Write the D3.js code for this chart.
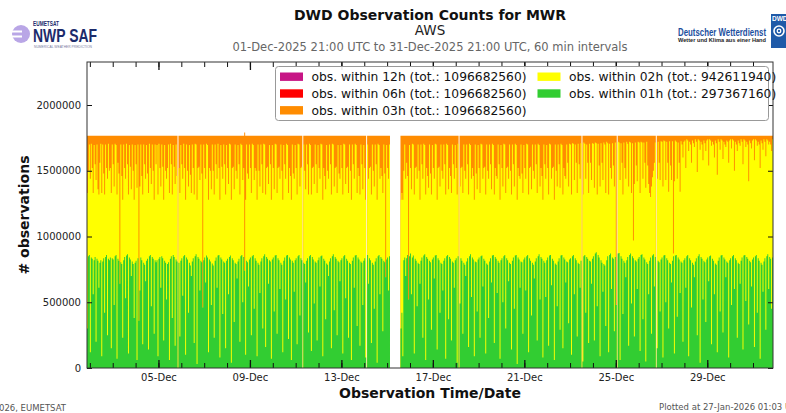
<!DOCTYPE html>
<html>
<head>
<meta charset="utf-8">
<script src="https://cdn.jsdelivr.net/npm/d3@7"></script>
<style>
  body { margin: 0; background: #fff; }
  svg { display: block; }
  text { font-family: "DejaVu Sans", sans-serif; }
</style>
</head>
<body>
<svg id="chart" width="786" height="413"></svg>
<script>
// Hourly counts (thousands of observations), one row per 24 hours, first hour 01-Dec-2025 21:00 UTC.
// null = no data for that hour.
const startTime = Date.UTC(2025, 11, 1, 21);
const intervalMs = 3600 * 1000;
const valueUnit = 1000;

const within01h = [
  300,850,860,120,840,830,560,820,845,200,830,815,610,800,820,90,810,835,420,845,860,250,830,820,
  840,150,835,825,480,850,860,70,830,815,640,805,790,230,820,845,530,855,865,110,840,825,700,810,
  790,380,800,815,60,835,360,590,840,820,180,800,785,660,815,830,140,850,860,470,845,830,260,820,
  805,820,90,830,845,610,850,835,210,815,800,520,790,805,60,830,850,380,860,845,170,825,810,null,
  800,240,815,835,550,850,860,100,840,825,420,800,780,700,810,835,190,850,865,30,845,830,590,815,
  805,460,820,840,650,855,840,120,825,810,480,795,780,230,815,840,610,855,860,80,840,825,410,810,
  800,150,815,830,560,845,855,40,835,820,350,800,790,680,810,830,200,850,860,500,845,740,100,815,
  805,620,825,840,250,850,860,450,835,815,90,800,785,570,810,835,300,850,865,160,845,830,640,820,
  810,70,825,840,430,855,860,260,835,820,600,800,785,120,815,840,520,855,860,220,840,825,60,815,
  800,580,820,835,180,850,860,400,835,820,null,800,790,650,815,835,270,850,860,130,845,825,490,810,
  800,210,820,840,620,850,855,90,830,815,370,795,785,700,810,835,150,850,865,440,845,830,250,815,
  805,660,820,835,110,850,860,530,830,815,230,800,790,60,815,840,610,855,860,320,840,825,170,810,
  800,480,815,835,80,null,860,640,835,820,190,800,785,450,810,835,40,850,860,560,845,830,280,815,
  805,690,825,840,590,850,null,null,null,null,null,null,null,null,null,null,null,300,420,90,820,840,700,835,
  860,520,850,870,560,840,855,110,830,815,470,800,790,640,815,840,230,855,865,60,845,830,520,815,
  805,290,825,840,680,855,860,140,835,820,420,800,790,590,815,835,70,850,860,370,845,830,210,810,
  800,610,820,835,40,850,null,490,835,815,260,800,785,700,810,835,160,850,865,540,840,825,90,810,
  805,430,825,840,230,850,855,620,830,815,110,795,785,380,810,835,650,855,860,190,845,830,570,815,
  800,70,820,835,500,850,860,300,835,820,660,800,790,140,815,840,450,855,860,30,840,825,610,810,
  805,260,825,840,590,850,860,120,835,815,400,800,785,680,810,835,210,850,865,520,845,830,80,815,
  800,540,820,840,170,855,860,630,830,815,60,795,785,470,810,835,290,855,860,150,840,825,650,810,
  805,340,825,835,100,850,860,560,835,820,240,800,790,610,815,null,50,850,860,420,845,830,190,815,
  810,640,830,850,210,870,880,470,860,840,90,820,800,580,790,780,320,820,850,120,860,870,600,840,
  830,280,845,480,null,870,875,60,850,830,410,815,800,690,820,845,170,860,870,490,850,835,240,820,
  810,600,830,845,130,860,865,370,840,825,50,805,790,560,815,840,260,855,865,620,845,null,150,815,
  805,430,825,840,80,855,860,500,835,820,300,800,790,650,815,850,110,855,860,390,840,825,570,810,
  800,200,820,835,610,850,860,90,835,820,460,800,785,690,810,835,250,850,865,40,845,830,520,815,
  805,350,825,840,660,850,855,180,830,815,560,795,785,120,815,840,430,855,860,270,840,825,690,810,
  800,80,820,835,480,850,860,600,835,820,230,800,790,640,815,840,140,855,860,510,845,830,330,815,
  805,620,825,840,160,850,860,420,835,815,70,800,785,580,810,835,290,850,865,600,845,830,450,840
];

const within02h = [
  1330,1500,1700,1440,1705,1520,1330,1695,1550,1430,1700,1360,1320,1560,1705,1330,1700,1480,1320,1700,1520,1440,1705,1500,
  1520,1330,1700,1550,1380,1705,1695,1320,1560,1480,640,1700,1460,1280,1700,1520,1440,1705,1550,1320,1695,1530,1360,1700,
  1500,1280,1695,1550,1370,1700,360,1380,1700,1460,1320,1700,1550,1440,1695,1480,1330,1705,1520,1400,1700,1500,1280,1700,
  1550,1695,1320,1705,1520,1380,1700,1530,1280,1695,1500,1440,1520,1700,1330,1705,1550,1320,1695,1530,1400,1700,1460,null,
  1520,1330,1695,1550,1440,1705,1520,1280,1700,1500,1380,1695,1470,1330,1700,1520,1320,1705,1700,1280,1520,1530,1430,1700,
  1480,460,1700,1520,1440,1705,1695,1280,1520,1500,1360,1700,1500,1320,1700,1550,1440,1705,1520,1280,1695,1530,1440,1700,
  1550,1320,1695,1520,1400,1705,1700,1280,1520,1530,1360,1700,1500,1440,1695,1550,1320,1705,1695,1430,1520,740,1280,1700,
  1480,1440,1700,1520,1330,1705,1695,1430,1520,1500,1280,1700,1500,1380,1700,1550,1330,1705,1700,1320,1520,1530,1400,1695,
  1550,1280,1695,1520,1360,1705,1700,1330,1520,1530,1440,1700,1500,1280,1695,1550,1440,1705,1695,1330,1520,1460,1280,1700,
  1480,1440,1695,1520,1320,1705,1700,1380,1520,1530,null,1700,1500,1360,1700,1550,1320,1705,1695,1320,1520,1530,1400,1700,
  1550,1330,1695,1520,1440,1705,1700,1280,1520,1460,1360,1695,1500,1440,1700,1550,1320,1705,1700,1380,1520,1530,1330,1695,
  1480,1440,1695,1520,1320,1705,1700,1400,1520,1530,1330,1700,1500,1280,1700,1550,1440,1705,1695,1330,1520,1460,1320,1700,
  1550,1360,1695,1520,1280,null,1700,1440,1520,1530,1320,1700,1500,1380,1700,1550,1280,1705,1695,1440,1520,1460,1330,1700,
  1480,690,1695,1520,1440,1700,null,null,null,null,null,null,null,null,null,null,null,1280,1330,1280,1500,1700,1440,1560,
  1460,520,1695,1520,1360,1705,1700,1320,1520,1530,1440,1700,1500,1280,1700,1550,1440,1705,1695,1320,1520,1460,1370,1700,
  1480,1320,1695,1520,1440,1705,1700,1280,1520,1530,1380,1700,1500,1440,1700,1550,1320,1705,1695,1360,1520,1460,1330,1700,
  1550,1440,1695,1520,1320,1705,null,1380,1520,1530,1330,1700,1500,1440,1700,1550,1320,1705,1695,1440,1520,1460,1280,1700,
  1480,1360,1695,1520,1330,1705,1700,1440,1520,1530,1320,1700,1500,1440,1700,1550,1360,1705,1695,1320,1520,1460,1440,1700,
  1550,1280,1695,1520,1380,1705,1700,1330,1520,1530,1440,1700,1500,1320,1700,1550,1380,1705,1695,1280,1520,1460,1440,1700,
  1480,1330,1695,1520,1440,1705,1700,1320,1520,1530,1360,1700,1500,1440,1700,1550,1330,1705,1695,1380,1520,1460,1280,1700,
  1550,1440,1695,1520,1320,1705,1700,1440,1520,1530,1280,1700,1500,1380,1700,1550,1370,1705,1695,1320,1520,1460,1440,1700,
  1560,1380,1705,1700,1320,1710,1705,1430,1700,1560,1330,1705,1550,1440,1710,null,1320,1715,1705,1440,1700,1560,1330,1705,
  1560,1430,1710,1705,1370,1715,1710,1320,1705,1540,1380,1710,1560,1430,1715,1700,1330,1720,1710,1320,1705,1520,1440,1710,
  1540,1380,1715,480,null,1720,1715,1430,1710,1560,1320,1715,1520,1440,1720,1705,1380,1720,1715,1330,1710,970,1400,1715,
  1540,1420,1720,1715,1330,1720,1715,1440,1715,1560,1370,1720,1540,1400,1330,1300,1380,1450,1500,1560,1715,null,1440,1720,
  1560,1430,1725,1720,1380,1730,1725,1430,1720,1560,1340,1725,1540,1430,1725,870,1420,1730,1720,1440,1715,1560,1340,1725,
  1700,1600,1720,1730,1520,1740,1730,1650,1720,1700,1560,1730,1710,1680,1740,1720,1490,1740,1730,1660,1720,1700,1580,1730,
  1710,1650,1730,1740,1540,1740,1730,1690,1720,1700,1600,1730,1710,1470,1740,1720,1660,1740,1730,1590,1720,1700,1680,1730,
  1720,1560,1730,1740,1670,1740,1730,1500,1720,1700,1650,1730,1710,1690,1740,1720,1550,1740,1730,1680,1720,1700,1420,1730,
  1710,1670,1730,1740,1580,1740,1730,1690,1720,1700,1520,1730,1710,1660,1740,1720,1610,1740,1730,1700,1720,1700,1650,1740
];

const within03h = [
  1766,1766,1766,1766,1766,1766,1766,1766,1766,1766,1766,1766,1766,1766,1766,1766,1766,1766,1766,1766,1766,1766,1766,1766,
  1766,1766,1766,1766,1766,1766,1766,1766,1766,1766,1766,1766,1766,1766,1766,1766,1766,1766,1766,1766,1766,1766,1766,1766,
  1766,1766,1766,1766,1766,1766,1766,1766,1766,1766,1766,1766,1766,1766,1766,1766,1766,1766,1766,1766,1766,1766,1766,1766,
  1766,1766,1766,1766,1766,1766,1766,1766,1766,1766,1766,1766,1766,1766,1766,1766,1766,1766,1766,1766,1766,1766,1766,null,
  1766,1766,1766,1766,1766,1766,1766,1766,1766,1766,1766,1766,1766,1766,1766,1766,1766,1766,1766,1766,1766,1766,1766,1766,
  1766,1766,1766,1766,1766,1766,1766,1766,1766,1766,1766,1766,1766,1766,1766,1766,1766,1766,1766,1766,1766,1766,1766,1766,
  1766,1766,1766,1766,1766,1766,1766,1766,1766,1766,1766,1766,1766,1766,1766,1766,1766,1766,1766,1766,1766,1790,1766,1766,
  1766,1766,1766,1766,1766,1766,1766,1766,1766,1766,1766,1766,1766,1766,1766,1766,1766,1766,1766,1766,1766,1766,1766,1766,
  1766,1766,1766,1766,1766,1766,1766,1766,1766,1766,1766,1766,1766,1766,1766,1766,1766,1766,1766,1766,1766,1766,1766,1766,
  1766,1766,1766,1766,1766,1766,1766,1766,1766,1766,null,1766,1766,1766,1766,1766,1766,1766,1766,1766,1766,1766,1766,1766,
  1766,1766,1766,1766,1766,1766,1766,1766,1766,1766,1766,1766,1766,1766,1766,1766,1766,1766,1766,1766,1766,1766,1766,1766,
  1766,1766,1766,1766,1766,1766,1766,1766,1766,1766,1766,1766,1766,1766,1766,1766,1766,1766,1766,1766,1766,1766,1766,1766,
  1766,1766,1766,1766,1766,null,1766,1766,1766,1766,1766,1766,1766,1766,1766,1766,1766,1766,1766,1766,1766,1766,1766,1766,
  1766,1766,1766,1766,1766,1766,null,null,null,null,null,null,null,null,null,null,null,1766,1766,1766,1766,1766,1766,1766,
  1766,1766,1766,1766,1766,1766,1766,1766,1766,1766,1766,1766,1766,1766,1766,1766,1766,1766,1766,1766,1766,1766,1766,1766,
  1766,1766,1766,1766,1766,1766,1766,1766,1766,1766,1766,1766,1766,1766,1766,1766,1766,1766,1766,1766,1766,1766,1766,1766,
  1766,1766,1766,1766,1766,1766,null,1766,1766,1766,1766,1766,1766,1766,1766,1766,1766,1766,1766,1766,1766,1766,1766,1766,
  1766,1766,1766,1766,1766,1766,1766,1766,1766,1766,1766,1766,1766,1766,1766,1766,1766,1766,1766,1766,1766,1766,1766,1766,
  1766,1766,1766,1766,1766,1766,1766,1766,1766,1766,1766,1766,1766,1766,1766,1766,1766,1766,1766,1766,1766,1766,1766,1766,
  1766,1766,1766,1766,1766,1766,1766,1766,1766,1766,1766,1766,1766,1766,1766,1766,1766,1766,1766,1766,1766,1766,1766,1766,
  1766,1766,1766,1766,1766,1766,1766,1766,1766,1766,1766,1766,1766,1766,1766,1766,1766,1766,1766,1766,1766,1766,1766,1766,
  1766,1766,1766,1766,1766,1766,1766,1766,1766,1766,1766,1766,1766,1766,1766,null,1766,1766,1766,1766,1766,1766,1766,1766,
  1766,1766,1766,1766,1766,1766,1766,1766,1766,1766,1766,1766,1766,1766,1766,1766,1766,1766,1766,1766,1766,1766,1766,1766,
  1766,1766,1766,1766,null,1766,1766,1766,1766,1766,1766,1766,1766,1766,1766,1766,1766,1766,1766,1766,1766,1766,1766,1766,
  1766,1766,1766,1766,1766,1766,1766,1766,1766,1766,1766,1766,1766,1766,1766,1766,1766,1766,1766,1766,1766,null,1766,1766,
  1766,1766,1766,1766,1766,1766,1766,1766,1766,1766,1766,1766,1766,1766,1766,1766,1766,1766,1766,1766,1766,1766,1766,1766,
  1766,1766,1766,1766,1766,1766,1766,1766,1766,1766,1766,1766,1766,1766,1766,1766,1766,1766,1766,1766,1766,1766,1766,1766,
  1766,1766,1766,1766,1766,1766,1766,1766,1766,1766,1766,1766,1766,1766,1766,1766,1766,1766,1766,1766,1766,1766,1766,1766,
  1766,1766,1766,1766,1766,1766,1766,1766,1766,1766,1766,1766,1766,1766,1766,1766,1766,1766,1766,1766,1766,1766,1766,1766,
  1766,1766,1766,1766,1766,1766,1766,1766,1766,1766,1766,1766,1766,1766,1766,1766,1766,1766,1766,1766,1766,1766,1766,1766
];
// Every observation had arrived within 3 h, so the 6 h and 12 h counts equal the 3 h counts.
const within06h = within03h;
const within12h = within03h;

const seriesNames  = ["obs. within 12h", "obs. within 06h", "obs. within 03h", "obs. within 02h", "obs. within 01h"];
const seriesTotals = ["1096682560", "1096682560", "1096682560", "942611940", "297367160"];
const seriesColors = ["#c71585", "#ff0000", "#ff8c00", "#ffff00", "#32cd32"];
const seriesValues = [within12h, within06h, within03h, within02h, within01h];
// the 12h and 06h colours only show the late arrivals above the next shorter window
const seriesBase   = [within06h, within03h, null, null, null];

const yTickValues = [0, 500000, 1000000, 1500000, 2000000];
const xLabelDays  = [5, 9, 13, 17, 21, 25, 29];

const plot = { left: 87, right: 773, top: 62, bottom: 368 };
const hourCount = within03h.length;

const svg = d3.select("#chart");

const x = d3.scaleUtc()
  .domain([new Date(startTime), new Date(startTime + hourCount * intervalMs)])
  .range([plot.left, plot.right]);
const y = d3.scaleLinear().domain([0, 2327000]).range([plot.bottom, plot.top]);

svg.append("defs").append("clipPath").attr("id", "plotClip")
  .append("rect")
  .attr("x", plot.left).attr("y", plot.top)
  .attr("width", plot.right - plot.left).attr("height", plot.bottom - plot.top);

// each hour becomes a flat step from its start to its end
function hourSteps(values, base) {
  const pts = [];
  values.forEach((v, i) => {
    const t0 = startTime + i * intervalMs;
    const b = base ? base[i] : 0;
    pts.push({ t: t0, v, b });
    pts.push({ t: t0 + intervalMs, v, b });
  });
  return pts;
}

const area = d3.area()
  .defined(d => d.v != null)
  .x(d => x(new Date(d.t)))
  .y0(d => y((d.b || 0) * valueUnit))
  .y1(d => y(d.v * valueUnit));

// longest delay drawn first, each shorter delay painted over it
const bars = svg.append("g").attr("clip-path", "url(#plotClip)");
seriesValues.forEach((vals, k) => {
  bars.append("path")
    .datum(hourSteps(vals, seriesBase[k]))
    .attr("fill", seriesColors[k])
    .attr("d", area);
});

// axes: ticks point inwards on all four sides
const dayTicks = d3.utcDay.range(new Date(startTime), new Date(startTime + hourCount * intervalMs));
const majorTicks = xLabelDays.map(d => new Date(Date.UTC(2025, 11, d)));
const fmt = d3.utcFormat("%d-%b");

function styleAxis(g) {
  g.select(".domain").remove();
  g.selectAll("line").attr("stroke", "#111");
  g.selectAll("text").attr("fill", "#222").style("font-size", "10px")
    .style("font-family", "'DejaVu Sans', sans-serif");
}

svg.append("g").attr("transform", `translate(0,${plot.bottom})`)
  .call(d3.axisBottom(x).tickValues(dayTicks).tickSize(-5).tickFormat(""))
  .call(styleAxis);
svg.append("g").attr("transform", `translate(0,${plot.bottom})`)
  .call(d3.axisBottom(x).tickValues(majorTicks).tickSize(-8).tickPadding(6).tickFormat(fmt))
  .call(styleAxis)
  .call(g => g.selectAll("line").attr("stroke-width", 1.3));
svg.append("g").attr("transform", `translate(0,${plot.top})`)
  .call(d3.axisTop(x).tickValues(dayTicks).tickSize(-5).tickFormat(""))
  .call(styleAxis);
svg.append("g").attr("transform", `translate(0,${plot.top})`)
  .call(d3.axisTop(x).tickValues(majorTicks).tickSize(-8).tickFormat(""))
  .call(styleAxis)
  .call(g => g.selectAll("line").attr("stroke-width", 1.3));
svg.append("g").attr("transform", `translate(${plot.left},0)`)
  .call(d3.axisLeft(y).tickValues(yTickValues).tickSize(-5).tickPadding(6).tickFormat(d3.format("d")))
  .call(styleAxis);
svg.append("g").attr("transform", `translate(${plot.right},0)`)
  .call(d3.axisRight(y).tickValues(yTickValues).tickSize(-5).tickFormat(""))
  .call(styleAxis);

svg.append("rect")
  .attr("x", plot.left).attr("y", plot.top)
  .attr("width", plot.right - plot.left).attr("height", plot.bottom - plot.top)
  .attr("fill", "none").attr("stroke", "#333").attr("stroke-width", 1);

// axis titles
svg.append("text").attr("x", 430).attr("y", 397.5).attr("text-anchor", "middle")
  .style("font-size", "14px").style("font-weight", "bold").attr("fill", "#111")
  .text("Observation Time/Date");
svg.append("text").attr("transform", "translate(29,215) rotate(-90)").attr("text-anchor", "middle")
  .style("font-size", "14px").style("font-weight", "bold").attr("fill", "#111")
  .text("# observations");

// titles
svg.append("text").attr("x", 430).attr("y", 20).attr("text-anchor", "middle")
  .style("font-size", "14px").style("font-weight", "bold").attr("fill", "#111")
  .text("DWD Observation Counts for MWR");
svg.append("text").attr("x", 430).attr("y", 35).attr("text-anchor", "middle")
  .style("font-size", "13.5px").attr("fill", "#222")
  .text("AWS");
svg.append("text").attr("x", 430).attr("y", 51).attr("text-anchor", "middle")
  .style("font-size", "11.5px").attr("fill", "#666")
  .text("01-Dec-2025 21:00 UTC to 31-Dec-2025 21:00 UTC, 60 min intervals");

// legend
const legend = svg.append("g");
legend.append("rect")
  .attr("x", 275.5).attr("y", 66.5).attr("width", 493).attr("height", 54).attr("rx", 3)
  .attr("fill", "#fff").attr("fill-opacity", 0.9).attr("stroke", "#999");
const legendPos = [
  { col: 0, row: 0 }, { col: 0, row: 1 }, { col: 0, row: 2 },
  { col: 1, row: 0 }, { col: 1, row: 1 }
];
seriesNames.forEach((name, k) => {
  const p = legendPos[k];
  const lx = p.col === 0 ? 280 : 537.5;
  const ly = 76.7 + p.row * 16.8;
  legend.append("rect").attr("x", lx).attr("y", ly - 4.2).attr("width", 23).attr("height", 8.4)
    .attr("fill", seriesColors[k]);
  legend.append("text").attr("x", lx + 31.5).attr("y", ly + 4.4)
    .style("font-size", "12.3px").attr("fill", "#111")
    .text(`${name} (tot.: ${seriesTotals[k]})`);
});

// NWP SAF logo
const nwp = svg.append("g");
nwp.append("circle").attr("cx", 21).attr("cy", 34).attr("r", 9).attr("fill", "#b9a6e6");
nwp.append("rect").attr("x", 10).attr("y", 30.5).attr("width", 12).attr("height", 2).attr("fill", "#fff");
nwp.append("rect").attr("x", 10).attr("y", 35.5).attr("width", 12).attr("height", 2).attr("fill", "#fff");
nwp.append("text").attr("x", 33).attr("y", 25.5).attr("textLength", 26).attr("lengthAdjust", "spacingAndGlyphs")
  .style("font-family", "'Liberation Sans', Arial, sans-serif").style("font-size", "6.5px").style("font-weight", "bold")
  .attr("fill", "#1c2b6b").text("EUMETSAT");
nwp.append("text").attr("x", 33).attr("y", 42).attr("textLength", 64).attr("lengthAdjust", "spacingAndGlyphs")
  .style("font-family", "'Liberation Sans', Arial, sans-serif").style("font-size", "18px").style("font-weight", "bold")
  .attr("fill", "#1c2b6b").text("NWP SAF");
nwp.append("text").attr("x", 34).attr("y", 48).attr("textLength", 58).attr("lengthAdjust", "spacingAndGlyphs")
  .style("font-family", "'Liberation Sans', Arial, sans-serif").style("font-size", "3.4px")
  .attr("fill", "#7a7aa0").text("NUMERICAL WEATHER PREDICTION");

// DWD logo
const dwd = svg.append("g");
dwd.append("text").attr("x", 678).attr("y", 35.5).attr("textLength", 88).attr("lengthAdjust", "spacingAndGlyphs")
  .style("font-family", "'Liberation Sans', Arial, sans-serif").style("font-size", "10.5px").style("font-weight", "bold")
  .attr("fill", "#1d4f9e").text("Deutscher Wetterdienst");
dwd.append("text").attr("x", 678).attr("y", 42).attr("textLength", 88).attr("lengthAdjust", "spacingAndGlyphs")
  .style("font-family", "'Liberation Sans', Arial, sans-serif").style("font-size", "6px").style("font-weight", "bold")
  .attr("fill", "#222").text("Wetter und Klima aus einer Hand");
dwd.append("rect").attr("x", 771).attr("y", 14).attr("width", 16).attr("height", 34).attr("fill", "#1f5aa8");
dwd.append("text").attr("x", 772).attr("y", 21).style("font-family", "'Liberation Sans', Arial, sans-serif")
  .style("font-size", "6.5px").style("font-weight", "bold").attr("fill", "#fff").text("DWD");
dwd.append("circle").attr("cx", 779).attr("cy", 31).attr("r", 5).attr("fill", "none").attr("stroke", "#fff").attr("stroke-width", 1.6);
dwd.append("circle").attr("cx", 779).attr("cy", 31).attr("r", 1.8).attr("fill", "none").attr("stroke", "#fff").attr("stroke-width", 1.3);

// footer
svg.append("text").attr("x", 66).attr("y", 411).attr("text-anchor", "end")
  .style("font-size", "8.5px").attr("fill", "#555").text("© 2026, EUMETSAT");
svg.append("text").attr("x", 659).attr("y", 410)
  .style("font-size", "8.5px").attr("fill", "#555").text("Plotted at 27-Jan-2026 01:03 UTC");
</script>
</body>
</html>
